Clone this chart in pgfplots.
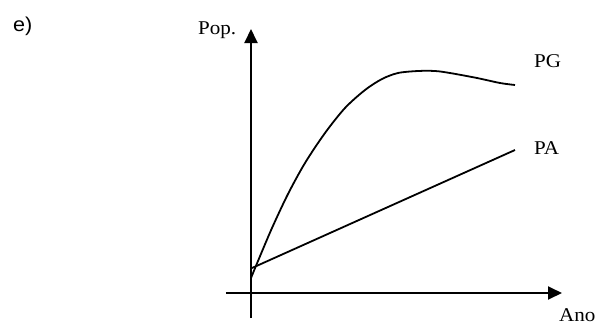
\documentclass[border=0pt]{standalone}
\usepackage{fontspec}
\setmainfont{Liberation Serif}
\newfontfamily\arial{Liberation Sans}
\usepackage{graphicx}
\usepackage{pgfplots}
\pgfplotsset{compat=1.18}
\usetikzlibrary{arrows.meta}

\newcommand{\lbl}[1]{\scalebox{1.08}[1]{\fontsize{19.5}{19.5}\selectfont #1}}

\begin{document}
\begin{tikzpicture}
\useasboundingbox (0,0) rectangle (603pt,-325pt);
\begin{axis}[
    at={(251pt,-293pt)}, anchor=origin,
    x=1pt, y=1pt,
    xmin=-25, xmax=311,
    ymin=-25, ymax=264,
    enlargelimits=false,
    axis lines=middle,
    axis line style={line width=1.9pt, -{Triangle[length=14pt,width=13pt]}},
    xtick=\empty, ytick=\empty,
    clip=false,
]
% PG
\addplot[black, line width=1.8pt, smooth] coordinates {
    (0,15) (7,32) (21,65) (37,99) (54,130) (74,160) (94,185) (114,203)
    (131,214) (147,220) (167,222) (184,222) (199,220) (226,215) (249,210) (264,208)
};
% PA
\addplot[black, line width=1.8pt] coordinates {(1,25) (264,143)};

\node[anchor=base west, inner sep=0] at (axis cs:-53,259) {\lbl{Pop.}};
\node[anchor=base west, inner sep=0] at (axis cs:283,226) {\lbl{PG}};
\node[anchor=base west, inner sep=0] at (axis cs:283,139) {\lbl{PA}};
\node[anchor=base west, inner sep=0] at (axis cs:308,-28) {\lbl{Ano}};
\node[anchor=base west, inner sep=0] at (axis cs:-238,262) {\scalebox{1.08}[1]{\arial\fontsize{20}{20}\selectfont e)}};
\end{axis}
\end{tikzpicture}
\end{document}
